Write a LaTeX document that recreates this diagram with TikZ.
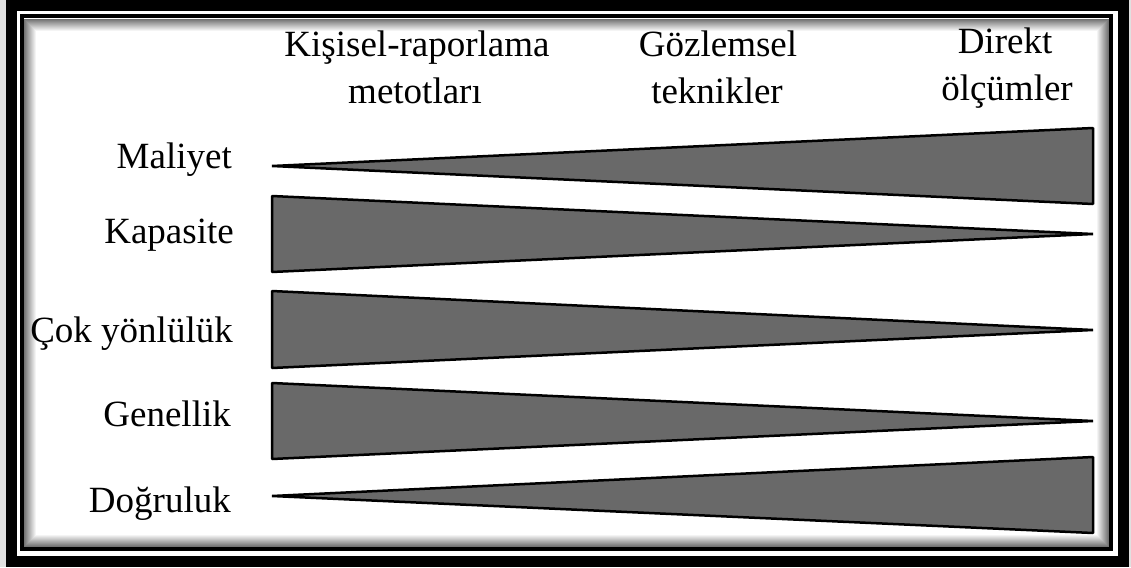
\documentclass[tikz,border=0pt]{standalone}
\usepackage{fontspec}
\setmainfont{Liberation Serif}
\definecolor{trigray}{RGB}{105,105,105}
\tikzset{
  tri/.style={fill=trigray, draw=black, line width=2.5pt, line join=bevel},
  lbl/.style={anchor=base east, inner sep=0pt, font=\fontsize{37}{46}\selectfont},
  hdr/.style={anchor=base, inner sep=0pt, font=\fontsize{37}{46}\selectfont},
}
\begin{document}
\begin{tikzpicture}[x=1pt,y=-1pt]
\useasboundingbox (0,0) rectangle (1131,567);
\fill[black!12] (0,0) rectangle (1131,567);
\fill[white] (6,0) rectangle (1129,567);
% outer thick frame
\draw[line width=11pt] (11.5,5.5) rectangle (1123.5,561);
% inner shadow
\foreach \i in {0,...,11}{
  \pgfmathsetmacro{\shade}{55-4.6*\i}
  \draw[black!\shade, line width=1.2pt] (24.5+\i,19.5+\i) rectangle (1108.5-\i,546.5-\i);
}
% inner thin frame
\draw[line width=4pt] (22,16) rectangle (1111,549);
% triangles
\path[tri] (272,166) -- (1093,128) -- (1093,204) -- cycle;
\path[tri] (272,196) -- (1093,234) -- (272,272) -- cycle;
\path[tri] (272,291) -- (1093,330) -- (272,368) -- cycle;
\path[tri] (272,383) -- (1093,421) -- (272,459) -- cycle;
\path[tri] (272,496) -- (1093,457) -- (1093,533) -- cycle;
% headers
\node[hdr] (h1a) at (417,57) {Kişisel-raporlama};
\node[hdr] (h1b) at (415,103) {metotları};
\node[hdr] (h2a) at (718,57) {Gözlemsel};
\node[hdr] (h2b) at (717,103) {teknikler};
\node[hdr] (h3a) at (1005,54) {Direkt};
\node[hdr] (h3b) at (1007,101) {ölçümler};
% row labels
\node[lbl] (l1) at (232,168) {Maliyet};
\node[lbl] (l2) at (234,243) {Kapasite};
\node[lbl] (l3) at (233,342) {Çok yönlülük};
\node[lbl] (l4) at (231,426) {Genellik};
\node[lbl] (l5) at (231,512) {Doğruluk};
\end{tikzpicture}
\end{document}
